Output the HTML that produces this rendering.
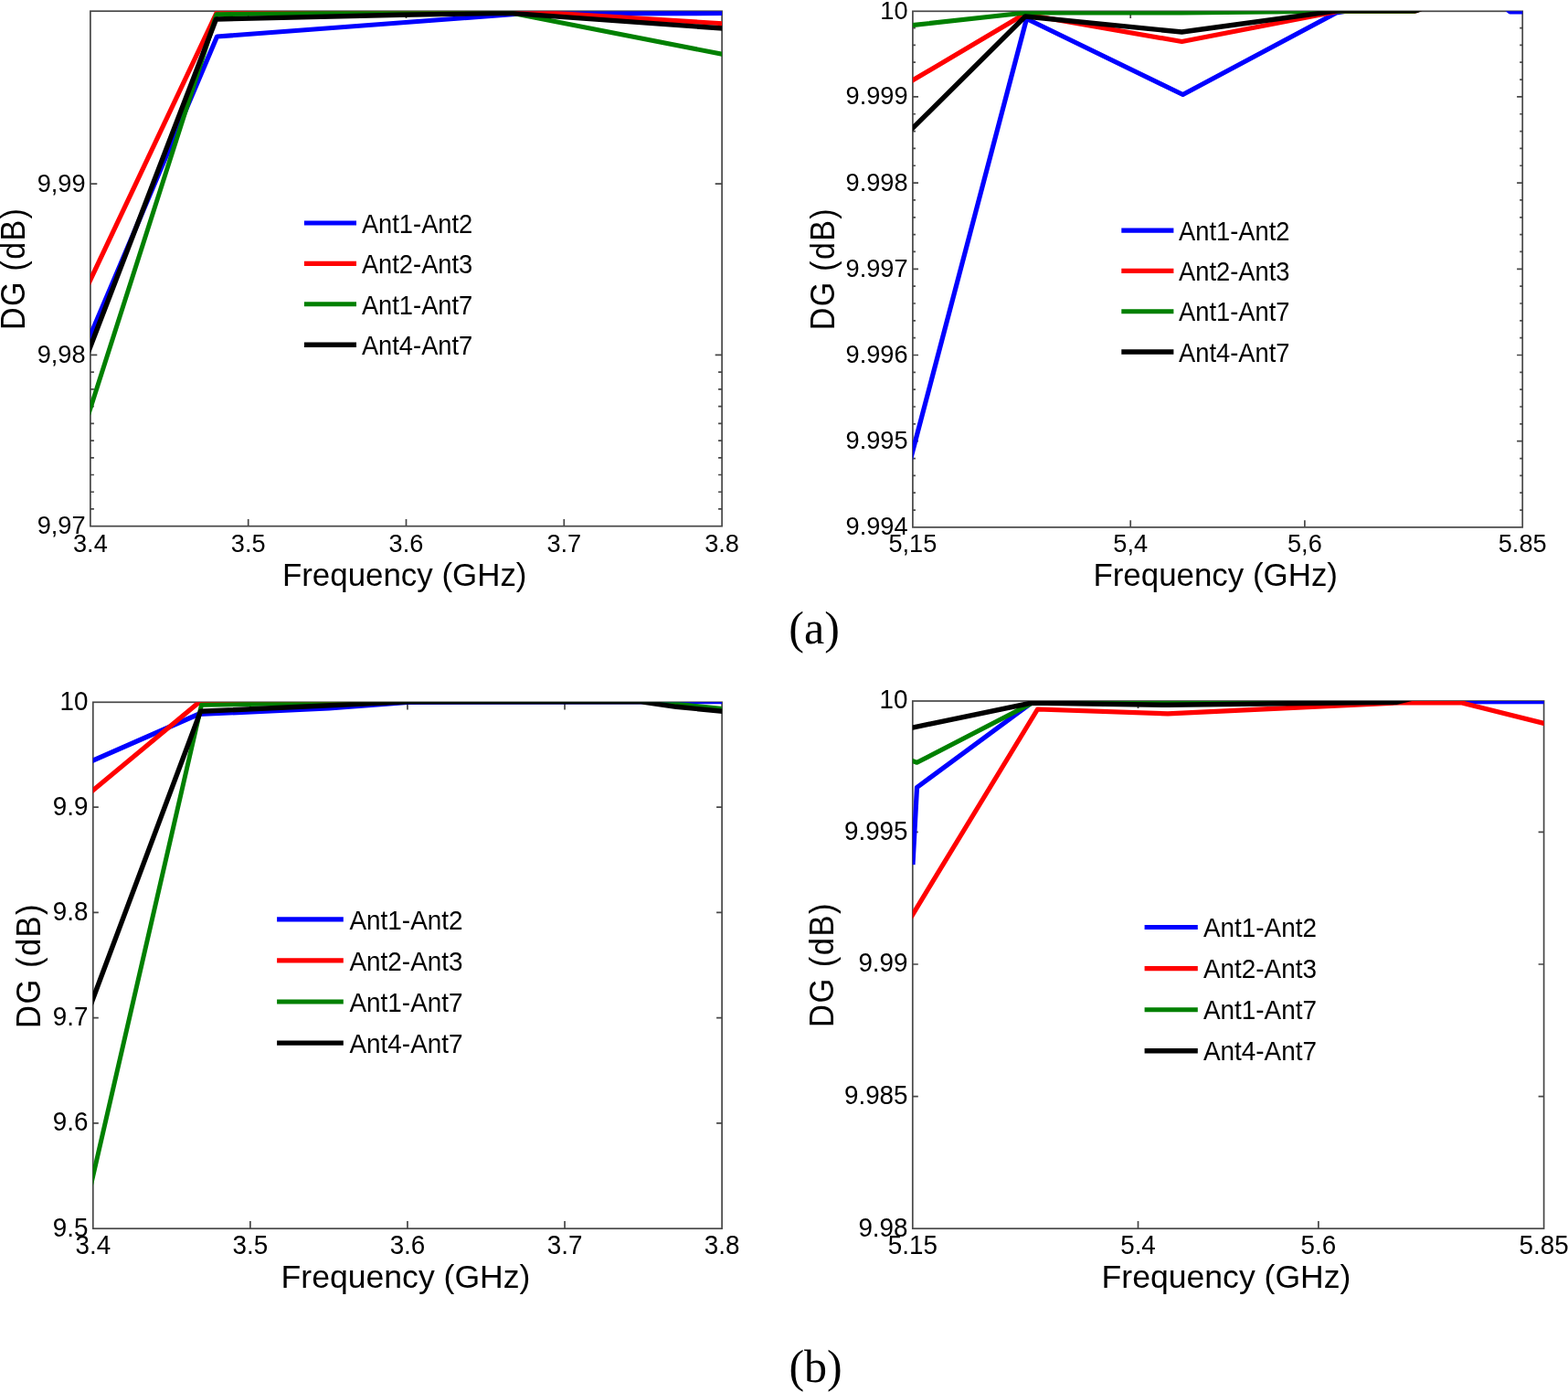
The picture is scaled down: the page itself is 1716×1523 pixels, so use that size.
<!DOCTYPE html>
<html><head><meta charset="utf-8"><title>DG plots</title>
<style>
html,body{margin:0;padding:0;background:#fff;}
svg{display:block;}
text{font-family:"Liberation Sans",Arial,sans-serif;fill:#000;}
</style></head>
<body>
<svg width="1716" height="1523" viewBox="0 0 1716 1523">
<rect width="1716" height="1523" fill="#fff"/>
<clipPath id="cp1"><rect x="98.90" y="12.20" width="691.20" height="563.50"/></clipPath>
<path d="M271.70 575.70V567.90M271.70 12.20V20.00M444.50 575.70V567.90M444.50 12.20V20.00M617.30 575.70V567.90M617.30 12.20V20.00M98.90 388.40H106.30M790.10 388.40H782.70M98.90 201.10H106.30M790.10 201.10H782.70M98.90 556.97H102.90M790.10 556.97H786.10M98.90 538.24H102.90M790.10 538.24H786.10M98.90 519.51H102.90M790.10 519.51H786.10M98.90 500.78H102.90M790.10 500.78H786.10M98.90 482.05H102.90M790.10 482.05H786.10M98.90 463.32H102.90M790.10 463.32H786.10M98.90 444.59H102.90M790.10 444.59H786.10M98.90 425.86H102.90M790.10 425.86H786.10M98.90 407.13H102.90M790.10 407.13H786.10" stroke="#474747" stroke-width="1.7" fill="none"/>
<rect x="98.90" y="12.20" width="691.20" height="563.50" stroke="#474747" stroke-width="1.7" fill="none"/>
<g clip-path="url(#cp1)" fill="none" stroke-linejoin="round" stroke-linecap="butt">
<path d="M96.22 373.06 L237.50 40.00 L570.00 15.00 L791.01 14.50" stroke="#0000ff" stroke-width="5.20"/>
<path d="M96.22 311.87 L238.50 11.00 L558.00 11.50 L791.16 25.77" stroke="#ff0000" stroke-width="5.20"/>
<path d="M96.31 454.88 L237.00 15.80 L550.00 12.30 L791.46 59.49" stroke="#008000" stroke-width="5.00"/>
<path d="M96.12 386.50 L236.50 21.00 L438.00 16.20 L558.00 14.40 L791.19 31.09" stroke="#000000" stroke-width="5.40"/>
</g>
<text transform="translate(98.90 604.20) scale(1 1.045)" text-anchor="middle" font-size="27.20">3.4</text>
<text transform="translate(271.70 604.20) scale(1 1.045)" text-anchor="middle" font-size="27.20">3.5</text>
<text transform="translate(444.50 604.20) scale(1 1.045)" text-anchor="middle" font-size="27.20">3.6</text>
<text transform="translate(617.30 604.20) scale(1 1.045)" text-anchor="middle" font-size="27.20">3.7</text>
<text transform="translate(790.10 604.20) scale(1 1.045)" text-anchor="middle" font-size="27.20">3.8</text>
<text transform="translate(93.60 584.10) scale(1 1.045)" text-anchor="end" font-size="27.20">9,97</text>
<text transform="translate(93.60 396.80) scale(1 1.045)" text-anchor="end" font-size="27.20">9,98</text>
<text transform="translate(93.60 209.50) scale(1 1.045)" text-anchor="end" font-size="27.20">9,99</text>
<text x="442.70" y="640.80" text-anchor="middle" font-size="34.90">Frequency (GHz)</text>
<text transform="translate(26.60 293.88) rotate(-90) scale(1 1.06)" text-anchor="middle" font-size="34.00" letter-spacing="1.35">DG (dB)</text>
<path d="M332.90 244.00H390.00" stroke="#0000ff" stroke-width="5.20"/>
<text transform="translate(395.90 254.90) scale(1 1.06)" font-size="27.30">Ant1-Ant2</text>
<path d="M332.90 288.40H390.00" stroke="#ff0000" stroke-width="5.20"/>
<text transform="translate(395.90 299.30) scale(1 1.06)" font-size="27.30">Ant2-Ant3</text>
<path d="M332.90 332.80H390.00" stroke="#008000" stroke-width="5.00"/>
<text transform="translate(395.90 343.70) scale(1 1.06)" font-size="27.30">Ant1-Ant7</text>
<path d="M332.90 377.20H390.00" stroke="#000000" stroke-width="5.40"/>
<text transform="translate(395.90 388.10) scale(1 1.06)" font-size="27.30">Ant4-Ant7</text>
<clipPath id="cp2"><rect x="998.90" y="12.30" width="667.30" height="564.60"/></clipPath>
<path d="M1237.22 576.90V569.20M1237.22 12.30V20.00M1427.88 576.90V569.20M1427.88 12.30V20.00M998.90 482.70H1005.00M1666.20 482.70H1660.10M998.90 388.50H1005.00M1666.20 388.50H1660.10M998.90 294.30H1005.00M1666.20 294.30H1660.10M998.90 200.10H1005.00M1666.20 200.10H1660.10M998.90 105.90H1005.00M1666.20 105.90H1660.10M998.90 558.06H1001.90M1666.20 558.06H1663.20M998.90 539.22H1001.90M1666.20 539.22H1663.20M998.90 520.38H1001.90M1666.20 520.38H1663.20M998.90 501.54H1001.90M1666.20 501.54H1663.20M998.90 463.86H1001.90M1666.20 463.86H1663.20M998.90 445.02H1001.90M1666.20 445.02H1663.20M998.90 426.18H1001.90M1666.20 426.18H1663.20M998.90 407.34H1001.90M1666.20 407.34H1663.20M998.90 369.66H1001.90M1666.20 369.66H1663.20M998.90 350.82H1001.90M1666.20 350.82H1663.20M998.90 331.98H1001.90M1666.20 331.98H1663.20M998.90 313.14H1001.90M1666.20 313.14H1663.20M998.90 275.46H1001.90M1666.20 275.46H1663.20M998.90 256.62H1001.90M1666.20 256.62H1663.20M998.90 237.78H1001.90M1666.20 237.78H1663.20M998.90 218.94H1001.90M1666.20 218.94H1663.20M998.90 181.26H1001.90M1666.20 181.26H1663.20M998.90 162.42H1001.90M1666.20 162.42H1663.20M998.90 143.58H1001.90M1666.20 143.58H1663.20M998.90 124.74H1001.90M1666.20 124.74H1663.20M998.90 87.06H1001.90M1666.20 87.06H1663.20M998.90 68.22H1001.90M1666.20 68.22H1663.20M998.90 49.38H1001.90M1666.20 49.38H1663.20M998.90 30.54H1001.90M1666.20 30.54H1663.20" stroke="#474747" stroke-width="1.7" fill="none"/>
<rect x="998.90" y="12.30" width="667.30" height="564.60" stroke="#474747" stroke-width="1.7" fill="none"/>
<g clip-path="url(#cp2)" fill="none" stroke-linejoin="round" stroke-linecap="butt">
<path d="M996.23 503.51 L1123.50 20.50 L1294.50 103.50 L1462.50 14.00 L1478.00 11.50 L1548.00 11.50 L1556.00 9.00 L1648.00 9.00 L1652.50 12.90 L1667.00 12.90" stroke="#0000ff" stroke-width="5.20"/>
<path d="M996.81 89.10 L1121.00 15.50 L1293.40 45.50 L1465.00 12.30 L1548.00 12.30 L1556.00 9.00 L1667.00 9.00" stroke="#ff0000" stroke-width="5.20"/>
<path d="M997.73 27.64 L1122.00 14.00 L1293.00 14.00 L1465.00 12.30 L1548.00 12.30 L1556.00 9.00 L1667.00 9.00" stroke="#008000" stroke-width="5.00"/>
<path d="M996.39 142.69 L1122.00 18.00 L1293.40 35.00 L1465.00 11.60 L1550.00 11.60 L1557.00 9.00 L1667.00 9.00" stroke="#000000" stroke-width="5.40"/>
</g>
<text transform="translate(998.90 603.80) scale(1 1.045)" text-anchor="middle" font-size="27.20">5,15</text>
<text transform="translate(1237.22 603.80) scale(1 1.045)" text-anchor="middle" font-size="27.20">5,4</text>
<text transform="translate(1427.88 603.80) scale(1 1.045)" text-anchor="middle" font-size="27.20">5,6</text>
<text transform="translate(1666.20 603.80) scale(1 1.045)" text-anchor="middle" font-size="27.20">5.85</text>
<text transform="translate(993.60 585.30) scale(1 1.045)" text-anchor="end" font-size="27.20">9.994</text>
<text transform="translate(993.60 491.10) scale(1 1.045)" text-anchor="end" font-size="27.20">9.995</text>
<text transform="translate(993.60 396.90) scale(1 1.045)" text-anchor="end" font-size="27.20">9.996</text>
<text transform="translate(993.60 302.70) scale(1 1.045)" text-anchor="end" font-size="27.20">9.997</text>
<text transform="translate(993.60 208.50) scale(1 1.045)" text-anchor="end" font-size="27.20">9.998</text>
<text transform="translate(993.60 114.30) scale(1 1.045)" text-anchor="end" font-size="27.20">9.999</text>
<text transform="translate(993.60 20.70) scale(1 1.045)" text-anchor="end" font-size="27.20">10</text>
<text x="1330.20" y="640.80" text-anchor="middle" font-size="34.90">Frequency (GHz)</text>
<text transform="translate(912.60 294.18) rotate(-90) scale(1 1.06)" text-anchor="middle" font-size="34.00" letter-spacing="1.35">DG (dB)</text>
<path d="M1227.30 252.10H1284.40" stroke="#0000ff" stroke-width="5.20"/>
<text transform="translate(1290.10 262.70) scale(1 1.06)" font-size="27.30">Ant1-Ant2</text>
<path d="M1227.30 296.40H1284.40" stroke="#ff0000" stroke-width="5.20"/>
<text transform="translate(1290.10 307.00) scale(1 1.06)" font-size="27.30">Ant2-Ant3</text>
<path d="M1227.30 340.70H1284.40" stroke="#008000" stroke-width="5.00"/>
<text transform="translate(1290.10 351.30) scale(1 1.06)" font-size="27.30">Ant1-Ant7</text>
<path d="M1227.30 385.00H1284.40" stroke="#000000" stroke-width="5.40"/>
<text transform="translate(1290.10 395.60) scale(1 1.06)" font-size="27.30">Ant4-Ant7</text>
<clipPath id="cp3"><rect x="101.80" y="768.30" width="688.30" height="575.90"/></clipPath>
<path d="M273.88 1344.20V1336.10M273.88 768.30V776.40M445.95 1344.20V1336.10M445.95 768.30V776.40M618.03 1344.20V1336.10M618.03 768.30V776.40M101.80 1228.93H107.80M790.10 1228.93H784.10M101.80 1113.65H107.80M790.10 1113.65H784.10M101.80 998.37H107.80M790.10 998.37H784.10M101.80 883.10H107.80M790.10 883.10H784.10" stroke="#474747" stroke-width="1.7" fill="none"/>
<rect x="101.80" y="768.30" width="688.30" height="575.90" stroke="#474747" stroke-width="1.7" fill="none"/>
<g clip-path="url(#cp3)" fill="none" stroke-linejoin="round" stroke-linecap="butt">
<path d="M100.04 832.86 L217.00 781.50 L360.00 775.00 L446.00 768.30 L791.01 767.60" stroke="#0000ff" stroke-width="5.20"/>
<path d="M99.57 866.52 L216.50 769.50 L300.00 768.50 L446.00 766.00 L791.01 765.00" stroke="#ff0000" stroke-width="5.20"/>
<path d="M99.34 1297.25 L220.50 771.30 L446.00 767.60 L715.00 767.60 L791.26 775.63" stroke="#008000" stroke-width="5.00"/>
<path d="M99.12 1099.69 L219.50 778.30 L446.00 767.80 L702.00 767.80 L740.00 773.30 L791.26 778.32" stroke="#000000" stroke-width="5.40"/>
</g>
<text transform="translate(101.80 1372.10) scale(1 1.070)" text-anchor="middle" font-size="27.80">3.4</text>
<text transform="translate(273.88 1372.10) scale(1 1.070)" text-anchor="middle" font-size="27.80">3.5</text>
<text transform="translate(445.95 1372.10) scale(1 1.070)" text-anchor="middle" font-size="27.80">3.6</text>
<text transform="translate(618.03 1372.10) scale(1 1.070)" text-anchor="middle" font-size="27.80">3.7</text>
<text transform="translate(790.10 1372.10) scale(1 1.070)" text-anchor="middle" font-size="27.80">3.8</text>
<text transform="translate(96.50 1352.60) scale(1 1.070)" text-anchor="end" font-size="27.80">9.5</text>
<text transform="translate(96.50 1237.33) scale(1 1.070)" text-anchor="end" font-size="27.80">9.6</text>
<text transform="translate(96.50 1122.05) scale(1 1.070)" text-anchor="end" font-size="27.80">9.7</text>
<text transform="translate(96.50 1006.77) scale(1 1.070)" text-anchor="end" font-size="27.80">9.8</text>
<text transform="translate(96.50 891.50) scale(1 1.070)" text-anchor="end" font-size="27.80">9.9</text>
<text transform="translate(96.50 776.70) scale(1 1.070)" text-anchor="end" font-size="27.80">10</text>
<text x="444.00" y="1409.40" text-anchor="middle" font-size="35.60">Frequency (GHz)</text>
<text transform="translate(43.60 1056.42) rotate(-90) scale(1 1.06)" text-anchor="middle" font-size="34.60" letter-spacing="1.45">DG (dB)</text>
<path d="M303.10 1005.80H375.80" stroke="#0000ff" stroke-width="5.20"/>
<text transform="translate(382.50 1016.90) scale(1 1.06)" font-size="27.90">Ant1-Ant2</text>
<path d="M303.10 1050.90H375.80" stroke="#ff0000" stroke-width="5.20"/>
<text transform="translate(382.50 1062.00) scale(1 1.06)" font-size="27.90">Ant2-Ant3</text>
<path d="M303.10 1096.00H375.80" stroke="#008000" stroke-width="5.00"/>
<text transform="translate(382.50 1107.10) scale(1 1.06)" font-size="27.90">Ant1-Ant7</text>
<path d="M303.10 1141.10H375.80" stroke="#000000" stroke-width="5.40"/>
<text transform="translate(382.50 1152.20) scale(1 1.06)" font-size="27.90">Ant4-Ant7</text>
<clipPath id="cp4"><rect x="998.80" y="767.00" width="690.80" height="577.20"/></clipPath>
<path d="M1245.51 1344.20V1336.10M1245.51 767.00V775.10M1442.89 1344.20V1336.10M1442.89 767.00V775.10M998.80 1199.60H1004.80M1689.60 1199.60H1683.60M998.80 1055.00H1004.80M1689.60 1055.00H1683.60M998.80 910.40H1004.80M1689.60 910.40H1683.60" stroke="#474747" stroke-width="1.7" fill="none"/>
<rect x="998.80" y="767.00" width="690.80" height="577.20" stroke="#474747" stroke-width="1.7" fill="none"/>
<g clip-path="url(#cp4)" fill="none" stroke-linejoin="round" stroke-linecap="butt">
<path d="M998.95 946.00 L1003.50 861.50 L1129.00 769.00 L1500.00 768.00 L1690.61 767.60" stroke="#0000ff" stroke-width="5.20"/>
<path d="M996.26 1004.80 L1135.50 776.00 L1278.00 780.80 L1531.00 768.80 L1599.00 768.80 L1691.20 791.80" stroke="#ff0000" stroke-width="5.20"/>
<path d="M997.18 831.91 L1003.50 834.30 L1129.00 769.50 L1500.00 768.50 L1545.00 764.00 L1690.60 764.00" stroke="#008000" stroke-width="5.00"/>
<path d="M997.47 796.32 L1129.00 769.00 L1278.00 771.30 L1528.00 768.30 L1545.00 764.30 L1690.60 764.30" stroke="#000000" stroke-width="5.40"/>
</g>
<text transform="translate(998.80 1372.10) scale(1 1.070)" text-anchor="middle" font-size="27.80">5.15</text>
<text transform="translate(1245.51 1372.10) scale(1 1.070)" text-anchor="middle" font-size="27.80">5.4</text>
<text transform="translate(1442.89 1372.10) scale(1 1.070)" text-anchor="middle" font-size="27.80">5.6</text>
<text transform="translate(1689.60 1372.10) scale(1 1.070)" text-anchor="middle" font-size="27.80">5.85</text>
<text transform="translate(993.50 1352.60) scale(1 1.070)" text-anchor="end" font-size="27.80">9.98</text>
<text transform="translate(993.50 1208.00) scale(1 1.070)" text-anchor="end" font-size="27.80">9.985</text>
<text transform="translate(993.50 1063.40) scale(1 1.070)" text-anchor="end" font-size="27.80">9.99</text>
<text transform="translate(993.50 918.80) scale(1 1.070)" text-anchor="end" font-size="27.80">9.995</text>
<text transform="translate(993.50 775.40) scale(1 1.070)" text-anchor="end" font-size="27.80">10</text>
<text x="1342.00" y="1409.40" text-anchor="middle" font-size="35.60">Frequency (GHz)</text>
<text transform="translate(912.00 1055.52) rotate(-90) scale(1 1.06)" text-anchor="middle" font-size="34.60" letter-spacing="1.45">DG (dB)</text>
<path d="M1252.60 1014.50H1310.80" stroke="#0000ff" stroke-width="5.20"/>
<text transform="translate(1316.90 1024.90) scale(1 1.06)" font-size="27.90">Ant1-Ant2</text>
<path d="M1252.60 1059.60H1310.80" stroke="#ff0000" stroke-width="5.20"/>
<text transform="translate(1316.90 1070.00) scale(1 1.06)" font-size="27.90">Ant2-Ant3</text>
<path d="M1252.60 1104.70H1310.80" stroke="#008000" stroke-width="5.00"/>
<text transform="translate(1316.90 1115.10) scale(1 1.06)" font-size="27.90">Ant1-Ant7</text>
<path d="M1252.60 1149.80H1310.80" stroke="#000000" stroke-width="5.40"/>
<text transform="translate(1316.90 1160.20) scale(1 1.06)" font-size="27.90">Ant4-Ant7</text>
<text x="891.1" y="704.2" text-anchor="middle" style="font-family:'Liberation Serif',serif;font-size:50px">(a)</text>
<text x="892.6" y="1511.8" text-anchor="middle" style="font-family:'Liberation Serif',serif;font-size:50px">(b)</text>
</svg>
</body></html>
